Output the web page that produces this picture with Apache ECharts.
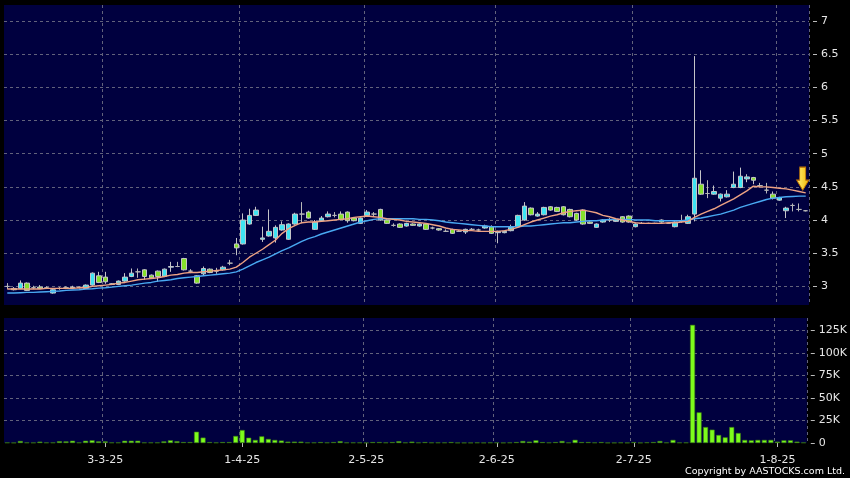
<!DOCTYPE html>
<html>
<head>
<meta charset="utf-8">
<script src="https://cdn.jsdelivr.net/npm/echarts@6/dist/echarts.min.js"></script>
<style>
html,body{margin:0;padding:0;background:#000;}
#c{width:850px;height:478px;}
</style>
</head>
<body>
<div id="c"></div>
<script>
// Trading days (d-m-yy)
const dates = [
 '10-2-25','11-2-25','12-2-25','13-2-25','14-2-25','17-2-25','18-2-25','19-2-25','20-2-25','21-2-25','24-2-25','25-2-25','26-2-25','27-2-25','28-2-25',
 '3-3-25','4-3-25','5-3-25','6-3-25','7-3-25','10-3-25','11-3-25','12-3-25','13-3-25','14-3-25','17-3-25','18-3-25','19-3-25','20-3-25','21-3-25','24-3-25','25-3-25','26-3-25','27-3-25','28-3-25','31-3-25',
 '1-4-25','2-4-25','3-4-25','7-4-25','8-4-25','9-4-25','10-4-25','11-4-25','14-4-25','15-4-25','16-4-25','17-4-25','22-4-25','23-4-25','24-4-25','25-4-25','28-4-25','29-4-25','30-4-25',
 '2-5-25','6-5-25','7-5-25','8-5-25','9-5-25','12-5-25','13-5-25','14-5-25','15-5-25','16-5-25','19-5-25','20-5-25','21-5-25','22-5-25','23-5-25','26-5-25','27-5-25','28-5-25','29-5-25','30-5-25',
 '2-6-25','3-6-25','4-6-25','5-6-25','6-6-25','9-6-25','10-6-25','11-6-25','12-6-25','13-6-25','16-6-25','17-6-25','18-6-25','19-6-25','20-6-25','23-6-25','24-6-25','25-6-25','26-6-25','27-6-25','30-6-25',
 '2-7-25','3-7-25','4-7-25','7-7-25','8-7-25','9-7-25','10-7-25','11-7-25','14-7-25','15-7-25','16-7-25','17-7-25','18-7-25','21-7-25','22-7-25','23-7-25','24-7-25','25-7-25','28-7-25','29-7-25','30-7-25','31-7-25',
 '1-8-25','4-8-25','5-8-25','6-8-25','7-8-25'
];
const tickLabels = ['3-3-25','1-4-25','2-5-25','2-6-25','2-7-25','1-8-25'];

const open = [
 3.00,2.97,2.97,3.05,2.98,2.99,2.98,2.90,2.97,2.98, 2.99,2.99,2.97,3.02,3.16,3.14,3.04,3.03,3.08,3.15,
 3.22,3.25,3.17,3.23,3.15,3.29,3.30,3.42,3.23,3.16, 3.19,3.26,3.23,3.25,3.35,3.64,3.64,3.94,4.07,3.71,
 3.76,3.73,3.85,3.71,3.94,4.09,4.12,3.86,3.99,4.05, 4.07,4.09,4.12,4.03,3.95,4.07,4.09,4.16,4.00,3.92,
 3.94,3.91,3.94,3.91,3.94,3.88,3.87,3.83,3.86,3.83, 3.82,3.86,3.85,3.88,3.90,3.81,3.81,3.84,3.90,4.00,
 4.18,4.06,4.08,4.20,4.19,4.20,4.16,4.10,4.15,3.97, 3.89,3.97,4.00,3.98,4.05,4.06,3.90,3.95,3.95,3.95,
 4.00,3.95,3.90,3.98,3.95,4.09,4.54,4.40,4.39,4.33, 4.35,4.49,4.49,4.62,4.64,4.52,4.45,4.39,4.30,4.14,
 4.22,4.16,4.14
];
const close = [
 3.00,2.95,3.05,2.94,2.98,2.97,2.97,2.95,2.97,2.98, 2.98,2.98,3.02,3.20,3.06,3.07,3.03,3.08,3.14,3.20,
 3.22,3.15,3.13,3.15,3.26,3.30,3.30,3.25,3.23,3.05, 3.27,3.21,3.23,3.29,3.35,3.58,4.00,4.07,4.15,3.73,
 3.83,3.89,3.93,3.94,4.09,4.09,4.03,3.97,4.03,4.09, 4.07,4.01,3.99,3.99,4.03,4.12,4.09,4.00,3.95,3.92,
 3.89,3.95,3.92,3.94,3.86,3.88,3.85,3.83,3.80,3.83, 3.86,3.86,3.85,3.91,3.80,3.83,3.83,3.89,4.07,4.21,
 4.08,4.09,4.19,4.15,4.13,4.08,4.05,4.00,3.94,3.95, 3.94,4.00,4.00,4.00,3.97,3.97,3.94,3.95,3.95,3.95,
 3.97,3.95,3.97,3.98,4.05,4.63,4.39,4.40,4.43,4.39, 4.39,4.54,4.66,4.65,4.60,4.52,4.45,4.33,4.34,4.18,
 4.22,4.16,4.14
];
const low = [
 2.96,2.94,2.96,2.93,2.96,2.96,2.96,2.89,2.95,2.96, 2.97,2.97,2.96,3.01,3.05,3.04,3.02,3.02,3.07,3.14,
 3.13,3.10,3.12,3.07,3.14,3.22,3.29,3.24,3.20,3.04, 3.17,3.20,3.19,3.24,3.32,3.47,3.63,3.93,4.06,3.67,
 3.75,3.66,3.84,3.70,3.93,3.95,4.02,3.85,3.98,4.04, 4.04,4.00,3.96,3.98,3.94,4.06,4.06,3.99,3.94,3.90,
 3.88,3.90,3.91,3.90,3.85,3.86,3.84,3.82,3.79,3.82, 3.79,3.84,3.83,3.87,3.79,3.65,3.80,3.83,3.89,3.99,
 4.07,4.05,4.07,4.14,4.12,4.07,4.04,3.99,3.93,3.94, 3.88,3.96,3.97,3.97,3.96,3.96,3.89,3.94,3.94,3.94,
 3.96,3.94,3.89,3.96,3.94,3.98,4.38,4.33,4.38,4.28, 4.34,4.48,4.48,4.57,4.54,4.49,4.40,4.31,4.29,4.03,
 4.13,4.13,4.13
];
const high = [
 3.05,2.99,3.09,3.06,3.01,3.02,3.00,2.96,2.99,3.00, 3.01,3.00,3.03,3.21,3.22,3.22,3.05,3.09,3.20,3.27,
 3.27,3.26,3.18,3.24,3.27,3.37,3.37,3.43,3.26,3.17, 3.30,3.27,3.28,3.31,3.40,3.73,4.10,4.17,4.20,3.90,
 4.16,3.92,3.98,3.95,4.11,4.27,4.14,4.00,4.06,4.13, 4.12,4.13,4.13,4.04,4.04,4.15,4.12,4.17,4.01,3.95,
 3.95,3.96,3.95,3.95,3.95,3.90,3.88,3.86,3.87,3.85, 3.87,3.88,3.87,3.93,3.92,3.84,3.84,3.93,4.08,4.27,
 4.19,4.12,4.20,4.21,4.20,4.21,4.17,4.11,4.16,3.98, 3.95,4.01,4.03,4.01,4.06,4.07,3.95,3.97,3.96,3.96,
 4.01,3.97,3.98,4.08,4.08,6.47,4.75,4.60,4.52,4.40, 4.45,4.73,4.79,4.69,4.65,4.56,4.56,4.43,4.35,4.20,
 4.25,4.25,4.15
];
const ma10 = [
 2.96,2.96,2.96,2.96,2.96,2.96,2.97,2.97,2.97,2.97,2.97,
 2.98,2.98,3.00,3.01,3.02,3.03,3.05,3.06,3.08,3.10,
 3.11,3.12,3.13,3.15,3.17,3.18,3.20,3.21,3.21,3.22,
 3.23,3.24,3.25,3.26,3.29,3.36,3.44,3.50,3.56,3.63,
 3.70,3.80,3.87,3.92,3.96,3.97,3.97,3.98,3.99,4.00,
 4.01,4.02,4.04,4.05,4.06,4.05,4.04,4.02,4.01,4.00,
 3.98,3.97,3.96,3.95,3.93,3.91,3.88,3.86,3.85,3.84,
 3.84,3.83,3.83,3.83,3.83,3.84,3.86,3.89,3.93,3.97,
 4.00,4.03,4.06,4.08,4.11,4.13,4.14,4.15,4.13,4.11,
 4.07,4.05,4.02,4.00,3.98,3.96,3.95,3.95,3.95,3.95,
 3.96,3.96,3.97,3.98,4.04,4.09,4.13,4.17,4.22,4.27,
 4.32,4.38,4.44,4.51,4.50,4.50,4.49,4.48,4.47,4.45,4.43,4.41
];
const ma20 = [
 2.90,2.90,2.905,2.91,2.91,2.915,2.92,2.925,2.93,2.94,2.945,
 2.95,2.96,2.965,2.975,2.98,2.99,3.00,3.01,3.02,3.035,
 3.05,3.06,3.08,3.09,3.10,3.12,3.13,3.14,3.15,3.16,
 3.17,3.18,3.19,3.20,3.22,3.26,3.31,3.36,3.40,3.44,
 3.49,3.54,3.58,3.63,3.68,3.72,3.75,3.79,3.82,3.85,
 3.88,3.91,3.94,3.97,3.99,4.01,4.02,4.02,4.02,4.02,
 4.02,4.02,4.01,4.01,4.00,3.99,3.97,3.96,3.95,3.94,
 3.93,3.92,3.91,3.90,3.90,3.90,3.90,3.90,3.91,3.91,
 3.92,3.93,3.94,3.95,3.96,3.96,3.97,3.98,3.99,3.99,
 4.00,4.01,4.01,4.01,4.01,4.00,4.00,4.00,3.99,3.99,
 3.99,3.99,3.99,4.00,4.02,4.03,4.05,4.07,4.09,4.12,
 4.15,4.19,4.22,4.25,4.28,4.31,4.33,4.34,4.35,4.355,4.36,4.36
];
// volume in thousands of shares
const volumeK = [
 0.5,0.3,2.2,0.5,0.4,1.5,0.5,0.5,2.0,1.8,
 2.5,0.5,2.5,3.0,1.8,1.8,0.5,0.5,2.5,2.5,
 2.5,0.5,0.5,0.5,1.8,3.0,2.0,1.0,1.0,12.5,
 6.0,1.0,0.5,1.0,1.0,7.8,14.4,5.9,3.4,7.4,
 4.5,3.4,2.7,1.5,1.5,1.5,0.5,0.5,1.0,0.5,
 1.0,2.0,0.5,0.5,0.5,0.3,1.0,1.0,0.5,1.0,
 2.0,0.5,1.5,0.5,1.0,0.5,0.5,0.5,1.0,0.3,
 0.3,0.3,0.5,0.3,0.5,0.5,0.3,0.5,1.0,2.2,
 1.5,3.0,1.0,0.5,1.0,2.2,0.5,3.5,1.0,1.0,
 0.5,1.0,0.3,0.3,0.5,0.3,1.0,0.3,0.7,1.0,
 2.2,0.5,3.4,0.5,0.5,131,34,17.7,14.8,8.9,
 6.3,17.7,11.1,3.4,3.0,3.4,3.4,3.4,1.5,3.0,
 3.0,1.5,0.5
];
const priceMin = 2.72, priceMax = 7.24;
const volMax = 138.6, volStep = 25;
const arrowPrice = 4.45;

const FONT = 'DejaVu Sans';
const LABEL_COLOR = '#e6e6e6';
const GRID_LINE = {color: '#62627c', type: [3, 3], width: 1};
const PANEL = '#00003f';
const isTick = (idx, val) => tickLabels.indexOf(val) >= 0;

const candleData = dates.map((d, i) => [open[i], close[i], low[i], high[i]]);

const chart = echarts.init(document.getElementById('c'), null, {renderer: 'canvas'});
chart.setOption({
  animation: false,
  backgroundColor: '#000',
  grid: [
    {left: 4, top: 5, width: 805, height: 300, show: true, backgroundColor: PANEL, borderWidth: 0},
    {left: 4, top: 318, width: 805, height: 125, show: true, backgroundColor: PANEL, borderWidth: 0}
  ],
  xAxis: [
    {type: 'category', gridIndex: 0, data: dates, boundaryGap: true,
     axisLine: {show: false}, axisTick: {show: false}, axisLabel: {show: false},
     splitLine: {show: true, interval: isTick, lineStyle: GRID_LINE}},
    {type: 'category', gridIndex: 1, data: dates, boundaryGap: true, offset: 3,
     axisLine: {show: false},
     axisTick: {show: true, interval: isTick, alignWithLabel: true, length: 4, lineStyle: {color: '#bbbbbb'}},
     axisLabel: {show: true, interval: isTick, color: LABEL_COLOR, fontFamily: FONT, fontSize: 11, margin: 9},
     splitLine: {show: true, interval: isTick, lineStyle: GRID_LINE}}
  ],
  yAxis: [
    {type: 'value', gridIndex: 0, position: 'right', min: priceMin, max: priceMax, splitNumber: 9, offset: 4,
     axisLine: {show: false},
     axisTick: {show: true, length: 4, lineStyle: {color: '#bbbbbb'}},
     axisLabel: {color: LABEL_COLOR, fontFamily: FONT, fontSize: 11, margin: 8, showMinLabel: false, showMaxLabel: false},
     splitLine: {show: true, showMinLine: false, showMaxLine: false, lineStyle: GRID_LINE}},
    {type: 'value', gridIndex: 1, position: 'right', min: 0, max: volMax, interval: volStep, offset: 4,
     axisLine: {show: false},
     axisTick: {show: true, length: 4, lineStyle: {color: '#bbbbbb'}},
     axisLabel: {color: LABEL_COLOR, fontFamily: FONT, fontSize: 11, margin: 8, showMaxLabel: false,
       formatter: v => v === 0 ? '0' : v + 'K'},
     splitLine: {show: true, showMinLine: false, showMaxLine: false, lineStyle: GRID_LINE}}
  ],
  series: [
    {type: 'candlestick', xAxisIndex: 0, yAxisIndex: 0, data: candleData, barWidth: 5,
     itemStyle: {color: '#3fe3f2', color0: '#86e02c', borderColor: '#c4c4c8', borderColor0: '#c4c4c8',
       borderColorDoji: '#b8b8b8', borderWidth: 1},
     markPoint: {
       silent: true,
       symbol: 'path://M3,0L9,0L9,13L12,13L6,23L0,13L3,13Z',
       symbolSize: [12, 23],
       symbolKeepAspect: false,
       label: {show: false},
       itemStyle: {color: {type: 'linear', x: 0, y: 0, x2: 1, y2: 0,
         colorStops: [{offset: 0, color: '#fff27a'}, {offset: 1, color: '#f2b400'}]},
         borderColor: '#c27400', borderWidth: 1},
       data: [{coord: [dates[dates.length - 1], arrowPrice], symbolOffset: [-3, -11.5]}]
     }},
    {type: 'line', xAxisIndex: 0, yAxisIndex: 0, data: ma20, symbol: 'none', smooth: false,
     lineStyle: {color: '#49a9f2', width: 1.4}},
    {type: 'line', xAxisIndex: 0, yAxisIndex: 0, data: ma10, symbol: 'none', smooth: false,
     lineStyle: {color: '#eea283', width: 1.4}},
    {type: 'bar', xAxisIndex: 1, yAxisIndex: 1, data: volumeK, barWidth: 5,
     itemStyle: {color: '#7dfc1c', borderColor: '#3d7d12', borderWidth: 0.6}}
  ],
  graphic: [
    {type: 'text', right: 5, bottom: 1, style: {text: 'Copyright by AASTOCKS.com Ltd.', fill: '#ffffff',
      font: '9.5px "DejaVu Sans"'}}
  ]
});
</script>
</body>
</html>
